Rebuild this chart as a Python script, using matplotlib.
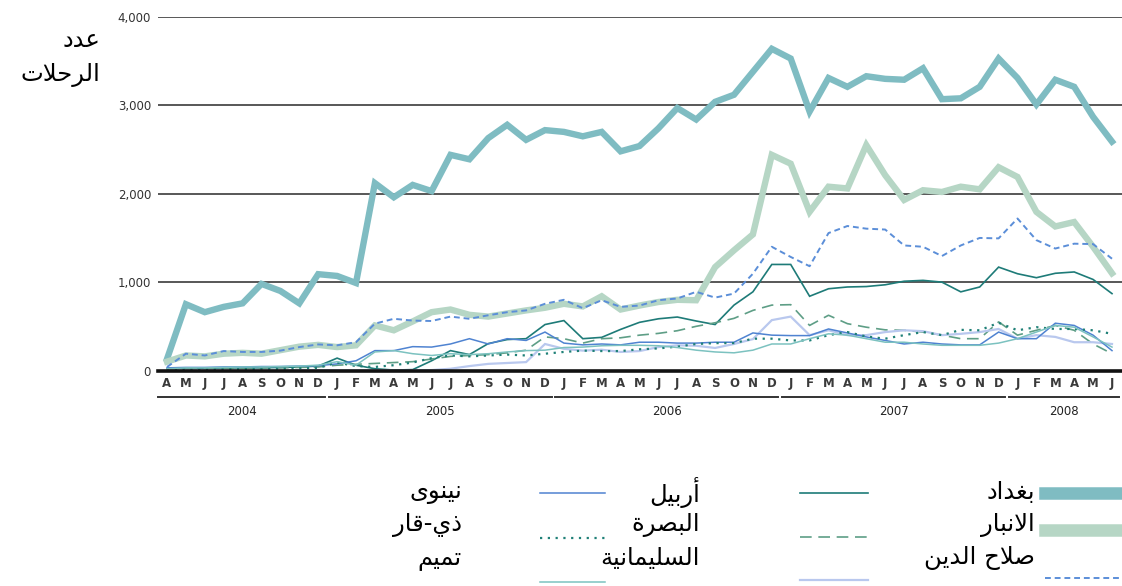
import numpy as np
import matplotlib.pyplot as plt
from matplotlib.lines import Line2D
import matplotlib.transforms as mtransforms

# months Apr 2004 .. Jun 2008
months = list('AMJJASOND') + list('JFMAMJJASOND') * 3 + list('JFMAMJ')
years = ['2004', '2005', '2006', '2007', '2008']
year_len = [9, 12, 12, 12, 6]

baghdad = [130, 750, 660, 720, 760, 980, 900, 760, 1090, 1070, 990, 2120, 1960, 2100, 2030, 2440, 2390,
           2630, 2780, 2610, 2720, 2700, 2650, 2700, 2480, 2540, 2740, 2970, 2840, 3040, 3120, 3380, 3640,
           3530, 2930, 3310, 3210, 3330, 3300, 3290, 3420, 3070, 3080, 3210, 3530, 3310, 3010, 3290, 3210,
           2870, 2590]
anbar = [100, 170, 160, 190, 200, 190, 230, 270, 290, 265, 285, 510, 455, 555, 660, 690, 630, 610, 645,
         680, 710, 755, 725, 840, 690, 735, 775, 800, 795, 1170, 1360, 1540, 2440, 2340, 1795, 2080, 2060,
         2550, 2210, 1930, 2040, 2020, 2080, 2050, 2300, 2190, 1795, 1630, 1680, 1400, 1100]
salah = [40, 190, 170, 220, 210, 210, 225, 265, 295, 285, 320, 530, 585, 565, 560, 610, 585, 625, 660,
         680, 755, 800, 705, 795, 720, 735, 795, 815, 890, 825, 870, 1095, 1400, 1285, 1180, 1555, 1635,
         1605, 1595, 1415, 1400, 1295, 1415, 1500, 1495, 1720, 1475, 1380, 1435, 1430, 1265]
erbil = [20, 25, 25, 30, 30, 30, 35, 40, 50, 140, 60, 20, 5, 10, 110, 225, 180, 305, 350, 360, 520, 565,
         360, 375, 465, 545, 585, 605, 560, 520, 740, 890, 1200, 1200, 840, 925, 945, 950, 970, 1010, 1020,
         1000, 890, 945, 1170, 1095, 1050, 1100, 1115, 1030, 870]
basra = [10, 20, 20, 25, 25, 30, 30, 35, 40, 60, 70, 80, 90, 100, 130, 160, 170, 180, 200, 230, 380, 360,
         310, 360, 370, 400, 420, 450, 500, 540, 590, 680, 740, 745, 510, 625, 530, 490, 460, 455, 435, 400,
         360, 360, 550, 400, 455, 510, 455, 300, 190]
sulay = [0, 0, 0, 0, 0, 0, 0, 0, 0, 0, 0, 0, 0, 0, 5, 20, 50, 75, 85, 95, 300, 245, 225, 235, 210, 220,
         265, 285, 280, 255, 300, 355, 570, 610, 400, 455, 400, 400, 435, 455, 445, 400, 415, 435, 470, 360,
         400, 380, 320, 320, 300]
ninawa = [30, 35, 35, 40, 40, 45, 45, 50, 55, 75, 110, 225, 225, 270, 265, 300, 360, 300, 360, 340, 435,
          310, 290, 300, 290, 320, 320, 310, 310, 320, 320, 425, 400, 395, 395, 470, 425, 380, 340, 300, 320,
          300, 290, 290, 435, 360, 360, 535, 510, 400, 225]
dhiqar = [5, 10, 10, 15, 15, 20, 20, 25, 30, 90, 50, 40, 60, 90, 140, 170, 160, 170, 180, 170, 190, 210,
          225, 220, 220, 240, 250, 270, 300, 310, 310, 360, 360, 340, 340, 400, 435, 385, 360, 400, 435, 400,
          460, 455, 540, 455, 490, 470, 470, 455, 415]
tamim = [20, 30, 30, 35, 40, 40, 45, 50, 60, 100, 60, 210, 225, 190, 170, 190, 180, 190, 210, 225, 230,
         260, 265, 280, 285, 285, 280, 260, 230, 210, 200, 230, 300, 300, 360, 415, 400, 360, 320, 320, 300,
         285, 285, 285, 310, 360, 435, 510, 490, 380, 265]

names = ['بغداد', 'الانبار', 'صلاح الدين', 'أربيل', 'البصرة', 'السليمانية', 'نينوى', 'ذي-قار', 'تميم']
series = [baghdad, anbar, salah, erbil, basra, sulay, ninawa, dhiqar, tamim]
styles = [
    dict(color='#7fbcc2', lw=4.6, ls='-'),
    dict(color='#b6d6c5', lw=4.6, ls='-'),
    dict(color='#5b8ed8', lw=1.4, ls=(0, (3, 2))),
    dict(color='#1e7b78', lw=1.2, ls='-'),
    dict(color='#5e9e86', lw=1.2, ls=(0, (7, 4))),
    dict(color='#b9c8ee', lw=1.6, ls='-'),
    dict(color='#4f83d1', lw=1.1, ls='-'),
    dict(color='#1f8077', lw=1.6, ls=(0, (1, 2.5))),
    dict(color='#7cc2c0', lw=1.1, ls='-'),
]

# tiny arabic shaper (matplotlib does no contextual shaping / bidi)
FORMS = {
    '\u0627': '\uFE8D\uFE8E', '\u0623': '\uFE83\uFE84', '\u0628': '\uFE8F\uFE90\uFE91\uFE92',
    '\u0629': '\uFE93\uFE94', '\u062A': '\uFE95\uFE96\uFE97\uFE98', '\u062D': '\uFEA1\uFEA2\uFEA3\uFEA4',
    '\u062F': '\uFEA9\uFEAA', '\u0630': '\uFEAB\uFEAC', '\u0631': '\uFEAD\uFEAE',
    '\u0633': '\uFEB1\uFEB2\uFEB3\uFEB4', '\u0635': '\uFEB9\uFEBA\uFEBB\uFEBC',
    '\u0639': '\uFEC9\uFECA\uFECB\uFECC', '\u063A': '\uFECD\uFECE\uFECF\uFED0',
    '\u0642': '\uFED5\uFED6\uFED7\uFED8', '\u0644': '\uFEDD\uFEDE\uFEDF\uFEE0',
    '\u0645': '\uFEE1\uFEE2\uFEE3\uFEE4', '\u0646': '\uFEE5\uFEE6\uFEE7\uFEE8',
    '\u0648': '\uFEED\uFEEE', '\u0649': '\uFEEF\uFEF0', '\u064A': '\uFEF1\uFEF2\uFEF3\uFEF4',
}
LAMALEF = {'\u0627': '\uFEFB\uFEFC', '\u0623': '\uFEF7\uFEF8'}


def dual(c):
    return c in FORMS and len(FORMS[c]) == 4


def shape(s):
    out = []
    i = 0
    while i < len(s):
        c = s[i]
        if c not in FORMS:
            out.append(c)
            i += 1
            continue
        pj = i > 0 and dual(s[i - 1])
        if c == '\u0644' and i + 1 < len(s) and s[i + 1] in LAMALEF:
            out.append(LAMALEF[s[i + 1]][1 if pj else 0])
            i += 2
            continue
        nj = dual(c) and i + 1 < len(s) and s[i + 1] in FORMS
        f = FORMS[c]
        if pj and nj:
            g = f[3]
        elif pj:
            g = f[1]
        elif nj:
            g = f[2]
        else:
            g = f[0]
        out.append(g)
        i += 1
    return ''.join(reversed(out))


W, H = 1122, 586
fig = plt.figure(figsize=(W / 100, H / 100), dpi=100)
x0, x1, ytop, ybot = 158, 1145, 17, 370.5
ax = fig.add_axes([x0 / W, 1 - ybot / H, (x1 - x0) / W, (ybot - ytop) / H])
step = 18.9
ax.set_xlim(-(167 - x0) / step, 50 + (x1 - 1112) / step)
ax.set_ylim(0, 4000)

x = np.arange(len(months))
for s, st in zip(series, styles):
    ax.plot(x, s, solid_joinstyle='miter', dash_capstyle='butt', **st)

narrow = ['Liberation Sans Narrow', 'DejaVu Sans']
for sp in ax.spines.values():
    sp.set_visible(False)
ax.set_yticks([0, 1000, 2000, 3000, 4000])
ax.set_yticklabels(['0', '1,000', '2,000', '3,000', '4,000'], family=narrow)
ax.yaxis.grid(True, color='#2a2a2a', lw=1.1)
ax.set_axisbelow(True)
ax.axhline(0, color='#111111', lw=2.6, clip_on=False, zorder=5)
ax.tick_params(axis='y', length=0, pad=5, labelsize=8.5, labelcolor='#333333')
ax.set_xticks(x)
ax.set_xticklabels(months, fontsize=8.5, fontweight='bold', color='#3a3a3a', family=narrow)
ax.tick_params(axis='x', length=0, pad=5)

# year brackets
trans = mtransforms.blended_transform_factory(ax.transData, ax.transAxes)
start = 0
for yr, n in zip(years, year_len):
    a, b = start - 0.45, start + n - 1 + 0.35
    ax.plot([a, b], [-0.075, -0.075], color='#333333', lw=1.4, transform=trans, clip_on=False)
    ax.text((a + b) / 2, -0.115, yr, transform=trans, ha='center', va='center', fontsize=8.5,
            color='#222222', family=narrow)
    start += n

afont = dict(family='DejaVu Sans', fontsize=17.5, color='black')
fig.text(100 / W, 1 - 40 / H, shape('عدد'), ha='right', va='center', **afont)
fig.text(100 / W, 1 - 75 / H, shape('الرحلات'), ha='right', va='center', **afont)

# legend, three columns (right to left)
text_right = [1035, 700, 462]
swatch = [(1045, 1122), (800, 868), (540, 605)]
text_y = [492, 525, 558]
line_y = [[493, 530, 578], [493, 537, 580], [493, 538, 582]]
for k, (nm, st) in enumerate(zip(names, styles)):
    col, row = divmod(k, 3)
    fig.text(text_right[col] / W, 1 - text_y[row] / H, shape(nm), ha='right', va='center', **afont)
    sx = swatch[col]
    ly = 1 - line_y[col][row] / H
    st2 = dict(st)
    if st2['lw'] > 3:
        st2['lw'] = 9
    fig.add_artist(Line2D([sx[0] / W, sx[1] / W], [ly, ly], transform=fig.transFigure,
                          dash_capstyle='butt', **st2))

fig.savefig('out.png', dpi=100)
